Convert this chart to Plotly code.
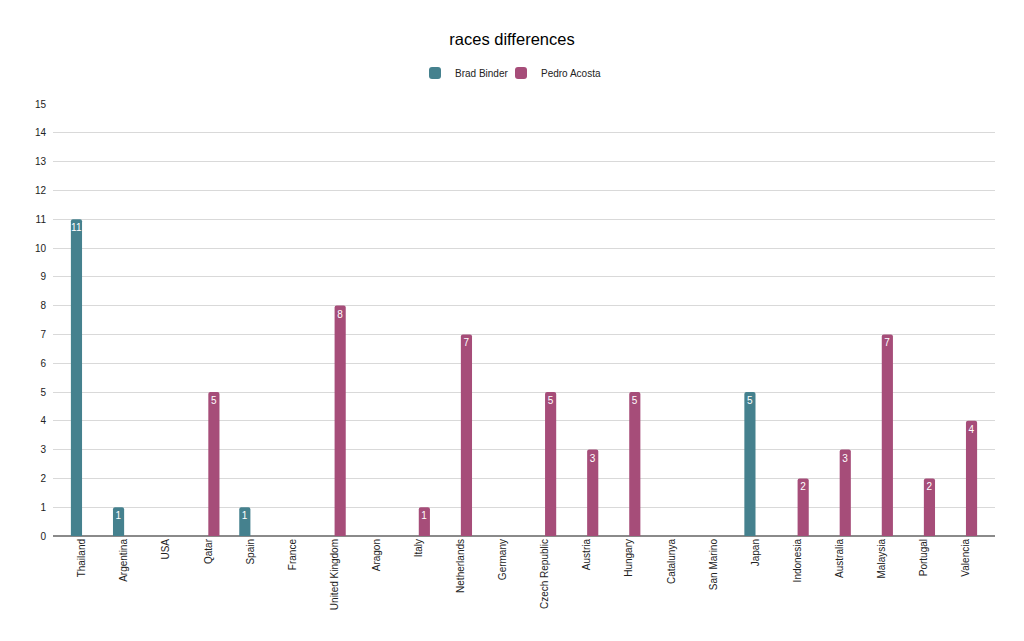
import plotly.graph_objects as go

categories = ["Thailand", "Argentina", "USA", "Qatar", "Spain", "France", "United Kingdom",
              "Aragon", "Italy", "Netherlands", "Germany", "Czech Republic", "Austria",
              "Hungary", "Catalunya", "San Marino", "Japan", "Indonesia", "Australia",
              "Malaysia", "Portugal", "Valencia"]
brad_binder = [11, 1, None, None, 1, None, None, None, None, None, None, None, None,
               None, None, None, 5, None, None, None, None, None]
pedro_acosta = [None, None, None, 5, None, None, 8, None, 1, 7, None, 5, 3,
                5, None, None, None, 2, 3, 7, 2, 4]
y_ticks = list(range(0, 16))

FONT = "Arial, Liberation Sans, sans-serif"

fig = go.Figure()
for name, vals, color, leg in [("Brad Binder", brad_binder, "#45818e", "legend"),
                               ("Pedro Acosta", pedro_acosta, "#a64d79", "legend2")]:
    fig.add_trace(go.Bar(
        x=categories, y=vals, name=name, legend=leg, showlegend=True,
        marker=dict(color=color, line=dict(width=0), cornerradius=2),
        texttemplate="%{y}", textposition="inside",
        insidetextanchor="end", textangle=0,
        textfont=dict(color="white", size=10, family=FONT),
        constraintext="none",
    ))

# page body has an 8px default margin, so the figure is sized/offset to compensate
L, R, T, B = 45, 29, 96, 105
PW = 1016 - L - R


def px_x(screen_x):
    return (screen_x - 8 - L) / PW


leg_common = dict(orientation="h", xanchor="left", y=1.072, yanchor="middle",
                  font=dict(size=10, color="#222222"), itemwidth=30,
                  bgcolor="rgba(0,0,0,0)", visible=True)

fig.update_layout(
    width=1016, height=633, showlegend=True,
    paper_bgcolor="white", plot_bgcolor="white",
    font=dict(family=FONT, color="#222222", size=10),
    title=dict(text="races differences", x=(512 - 8) / 1016, xanchor="center", y=0.95,
               yanchor="middle", font=dict(size=16.5, color="#000000", family=FONT),
               automargin=False),
    legend=dict(x=px_x(415), **leg_common),
    legend2=dict(x=px_x(501), **leg_common),
    barmode="group", bargap=0.47, bargroupgap=0,
    margin=dict(l=L, r=R, t=T, b=B, autoexpand=False),
    uniformtext=dict(mode="show", minsize=10),
    xaxis=dict(range=[-0.69, 21.69], tickangle=-90, showgrid=False, ticks="",
               tickfont=dict(size=10, color="#222222"), showline=False, zeroline=False,
               automargin=False),
    yaxis=dict(range=[0, 15], tickvals=y_ticks, showgrid=True, gridcolor="#d9d9d9",
               gridwidth=1, zeroline=True, zerolinecolor="#8a8a8a", zerolinewidth=1.5,
               ticks="", ticklabelstandoff=6, tickfont=dict(size=10, color="#222222"),
               automargin=False),
)

fig.write_html("out.html")
